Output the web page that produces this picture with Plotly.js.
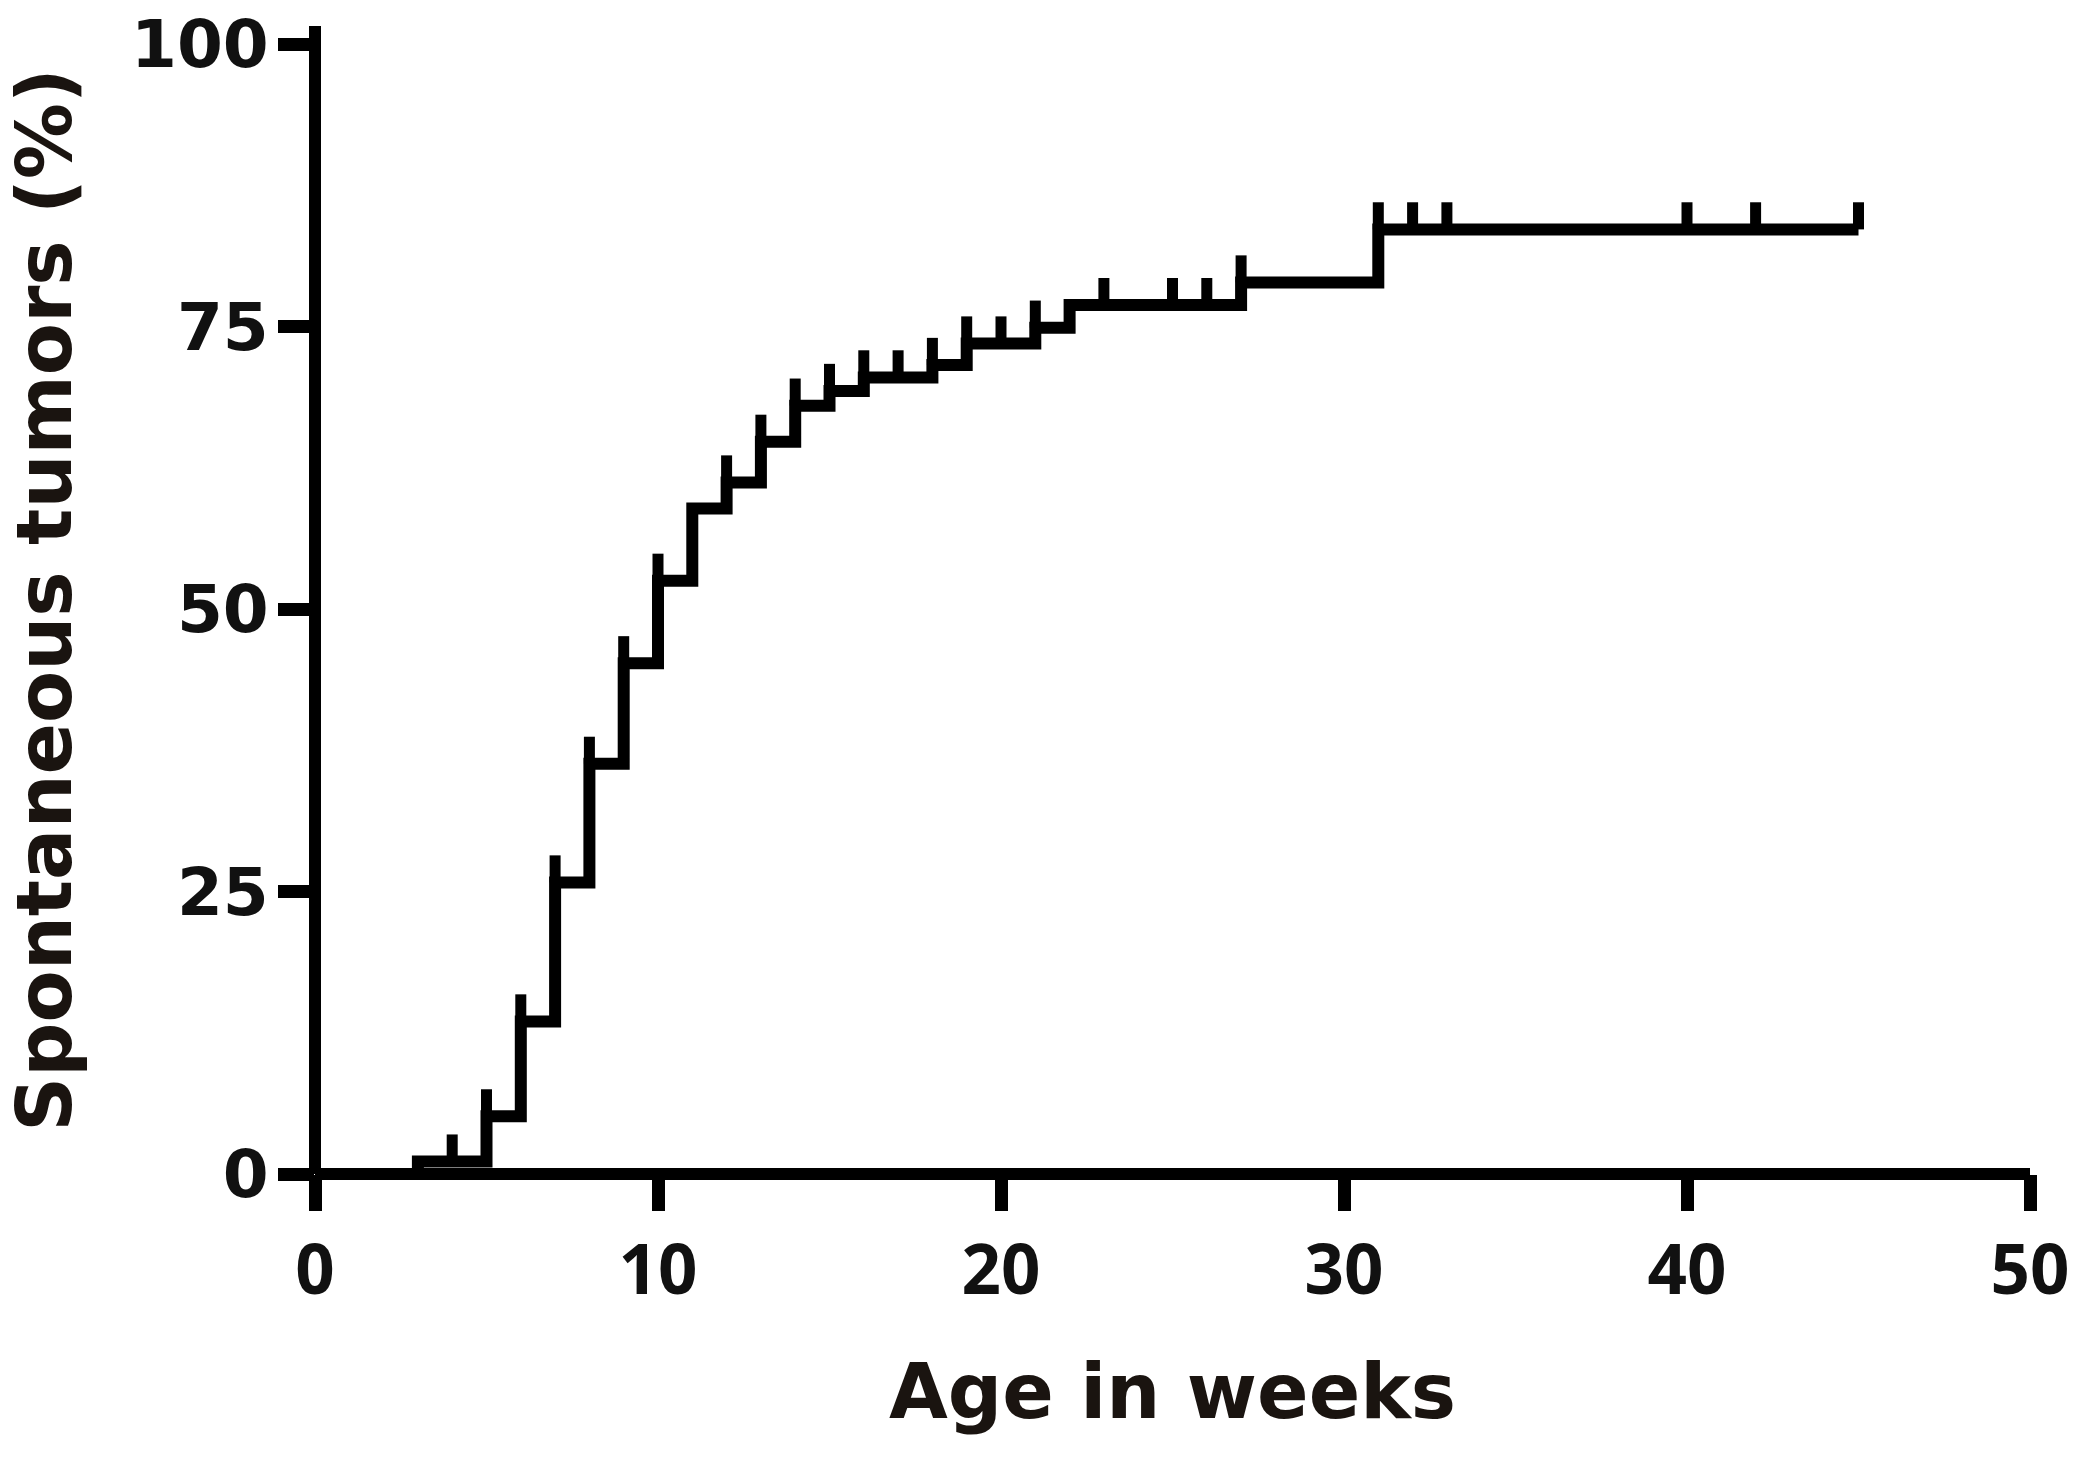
<!DOCTYPE html>
<html>
<head>
<meta charset="utf-8">
<script src="https://cdn.plot.ly/plotly-3.0.1.min.js"></script>
<style>
  html, body { margin: 0; padding: 0; background: #ffffff; }
  #chart { width: 2082px; height: 1457px; }
</style>
</head>
<body>
<div id="chart"></div>
<script>
// Step points of the cumulative tumor incidence curve (week, % with tumors after the step)
const eventWeeks = [0, 3, 5, 6, 7, 8, 9, 10, 11, 12, 13, 14, 15, 16, 18, 19, 21, 22, 27, 31, 45];
const tumorPct   = [0, 1.1, 5.1, 13.5, 25.8, 36.3, 45.2, 52.5, 58.9, 61.2, 64.8, 68.0, 69.3, 70.5, 71.6, 73.5, 74.9, 76.9, 78.9, 83.6, 83.6];
// Censored observations (tick marks on the curve)
const censorWeeks = [4, 5, 6, 7, 8, 9, 10, 12, 13, 14, 15, 16, 17, 18, 19, 20, 21, 23, 25, 26, 27, 31, 32, 33, 40, 42, 45];

const xTickVals = [0, 10, 20, 30, 40, 50];
const yTickVals = [0, 25, 50, 75, 100];
const xTitle = "Age in weeks";
const yTitle = "Spontaneous tumors (%)";

function levelAt(t) {
  let v = 0;
  for (let i = 0; i < eventWeeks.length; i++) {
    if (eventWeeks[i] <= t) v = tumorPct[i];
  }
  return v;
}
const censorPct = censorWeeks.map(levelAt);

const curve = {
  x: eventWeeks,
  y: tumorPct,
  mode: 'lines',
  line: { shape: 'hv', color: '#000000', width: 12 },
  hoverinfo: 'skip',
  showlegend: false,
  cliponaxis: false
};

const censors = {
  x: censorWeeks,
  y: censorPct,
  mode: 'markers',
  marker: { size: 1, color: 'rgba(0,0,0,0)' },
  error_y: {
    type: 'constant', symmetric: false, value: 2.4, valueminus: 0,
    thickness: 11, width: 0, color: '#000000'
  },
  hoverinfo: 'skip',
  showlegend: false
};

const xTickFont = { family: 'Open Sans, sans-serif', size: 69, color: '#111111', weight: 700 };
const yTickFont = { family: 'DejaVu Sans, Verdana, sans-serif', size: 66, color: '#111111', weight: 700 };
const titleFont = { family: 'DejaVu Sans, Verdana, sans-serif', size: 76, color: '#1a1410', weight: 700 };

const axisLine = { color: '#000000', width: 12 };

const layout = {
  width: 2082,
  height: 1457,
  paper_bgcolor: '#ffffff',
  plot_bgcolor: '#ffffff',
  margin: { l: 315, r: 52, t: 26, b: 283 },
  xaxis: {
    range: [0, 50],
    tickvals: xTickVals,
    ticktext: xTickVals.map(String),
    showgrid: false,
    zeroline: false,
    showline: false,
    ticks: 'outside',
    ticklen: 36,
    tickwidth: 13,
    tickcolor: '#000000',
    tickfont: xTickFont,
    title: { text: xTitle, font: titleFont, standoff: 52 },
    automargin: false
  },
  yaxis: {
    range: [0, 101.6],
    tickvals: yTickVals,
    ticktext: yTickVals.map(String),
    showgrid: false,
    zeroline: false,
    showline: false,
    ticks: 'outside',
    ticklen: 36,
    tickwidth: 13,
    tickcolor: '#000000',
    tickfont: yTickFont,
    ticklabelstandoff: -4,
    title: { text: yTitle, font: titleFont, standoff: 40 },
    automargin: false
  },
  shapes: [
    { type: 'line', xref: 'paper', yref: 'paper', x0: 0, x1: 1, y0: 0, y1: 0, line: axisLine, layer: 'above' },
    { type: 'line', xref: 'paper', yref: 'paper', x0: 0, x1: 0, y0: 0, y1: 1, line: axisLine, layer: 'above' }
  ],
  showlegend: false
};

Plotly.newPlot('chart', [curve, censors], layout, { staticPlot: true, displayModeBar: false });
</script>
</body>
</html>
